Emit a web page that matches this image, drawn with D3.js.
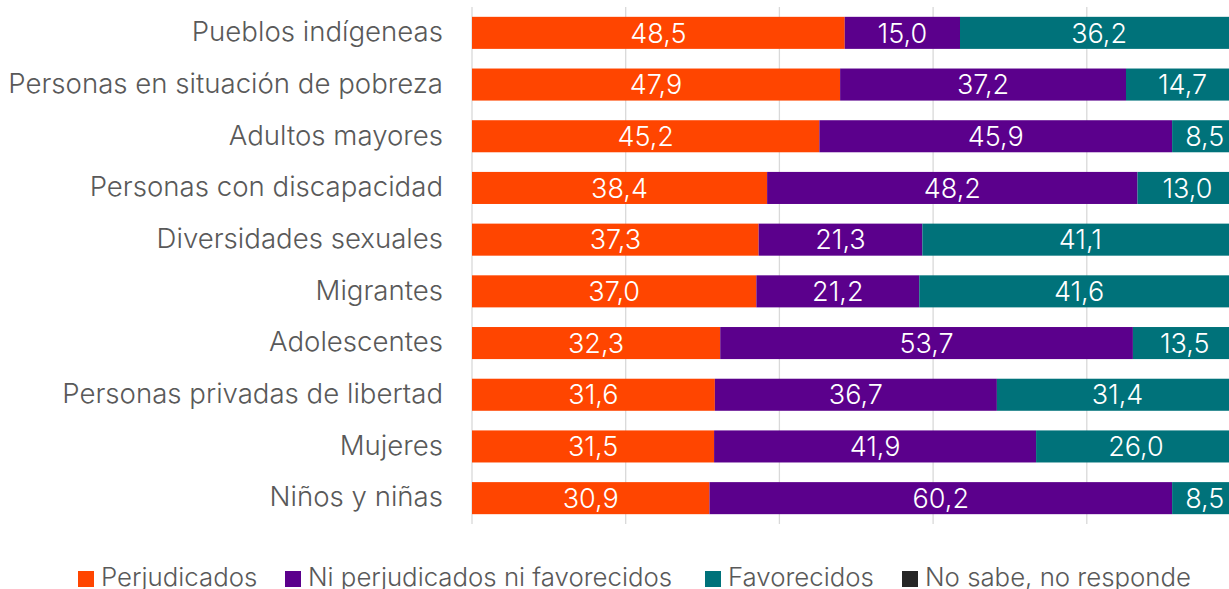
<!DOCTYPE html>
<html><head><meta charset="utf-8">
<script src="https://cdn.jsdelivr.net/npm/d3@7"></script>
<style>
html,body{margin:0;padding:0;background:#fff;overflow:hidden;}
svg{display:block;font-family:Inter,"Noto Sans",sans-serif;}
</style></head>
<body>
<svg id="chart" width="1229" height="589"></svg>
<script>
const categories = ["Pueblos indígeneas","Personas en situación de pobreza","Adultos mayores","Personas con discapacidad","Diversidades sexuales","Migrantes","Adolescentes","Personas privadas de libertad","Mujeres","Niños y niñas"];
const perjudicados = [48.5,47.9,45.2,38.4,37.3,37.0,32.3,31.6,31.5,30.9];
const niNi = [15.0,37.2,45.9,48.2,21.3,21.2,53.7,36.7,41.9,60.2];
const favorecidos = [36.2,14.7,8.5,13.0,41.1,41.6,13.5,31.4,26.0,8.5];
const noSabe = [0.3,0.2,0.4,0.4,0.3,0.2,0.5,0.3,0.6,0.4];
const seriesNames = ["Perjudicados","Ni perjudicados ni favorecidos","Favorecidos","No sabe, no responde"];
const colors = ["#FF4500","#5B008C","#00727A","#262626"];
const xTicks = [0,20,40,60,80,100];

const svg = d3.select("#chart");
const left = 472, plotW = 768.5;
const x = d3.scaleLinear().domain([0,100]).range([left, left+plotW]);
const y = d3.scaleBand().domain(categories).range([7, 524]).paddingInner(0.38).paddingOuter(0.19);

const rows = categories.map((c,i)=>({cat:c, Perj:perjudicados[i], Ni:niNi[i], Fav:favorecidos[i], NS:noSabe[i]}));
const keys = ["Perj","Ni","Fav","NS"];
const stacked = d3.stack().keys(keys)(rows);

// gridlines
svg.append("g").selectAll("line").data(xTicks).join("line")
  .attr("x1",d=>x(d)).attr("x2",d=>x(d)).attr("y1",7).attr("y2",524)
  .attr("stroke","#d9d9d9").attr("stroke-width",1.3);

const g = svg.append("g");
stacked.forEach((s,si)=>{
  g.append("g").selectAll("rect").data(s).join("rect")
    .attr("x",d=>x(d[0])).attr("width",d=>x(d[1])-x(d[0]))
    .attr("y",d=>y(d.data.cat)).attr("height",y.bandwidth())
    .attr("fill",colors[si]);
  if(si<3){
    g.append("g").selectAll("text").data(s).join("text")
      .attr("x",d=>(x(d[0])+x(d[1]))/2).attr("y",d=>y(d.data.cat)+y.bandwidth()/2)
      .attr("dy","0.36em").attr("text-anchor","middle")
      .attr("fill","#fff").attr("font-size",27).attr("font-weight",300)
      .text(d=>d3.format(".1f")(d[1]-d[0]).replace(".",","));
  }
});

// category labels
const yAxis = d3.axisLeft(y).tickSize(0).tickPadding(29);
const ya = svg.append("g").attr("transform",`translate(${left},0)`).call(yAxis);
ya.select(".domain").remove();
ya.selectAll("text").attr("font-size",27.6).attr("font-weight",300).attr("fill","#595959")
  .attr("font-family","Inter, 'Noto Sans', sans-serif").attr("dy","0.3em");

// legend
const legendX = [78, 285, 705, 902];
const lg = svg.append("g");
seriesNames.forEach((n,i)=>{
  lg.append("rect").attr("x",legendX[i]).attr("y",571).attr("width",16).attr("height",16).attr("fill",colors[i]);
  lg.append("text").attr("x",legendX[i]+23).attr("y",586)
    .attr("font-size",25.8).attr("font-weight",300).attr("fill","#595959").text(n);
});
</script>
</body></html>
